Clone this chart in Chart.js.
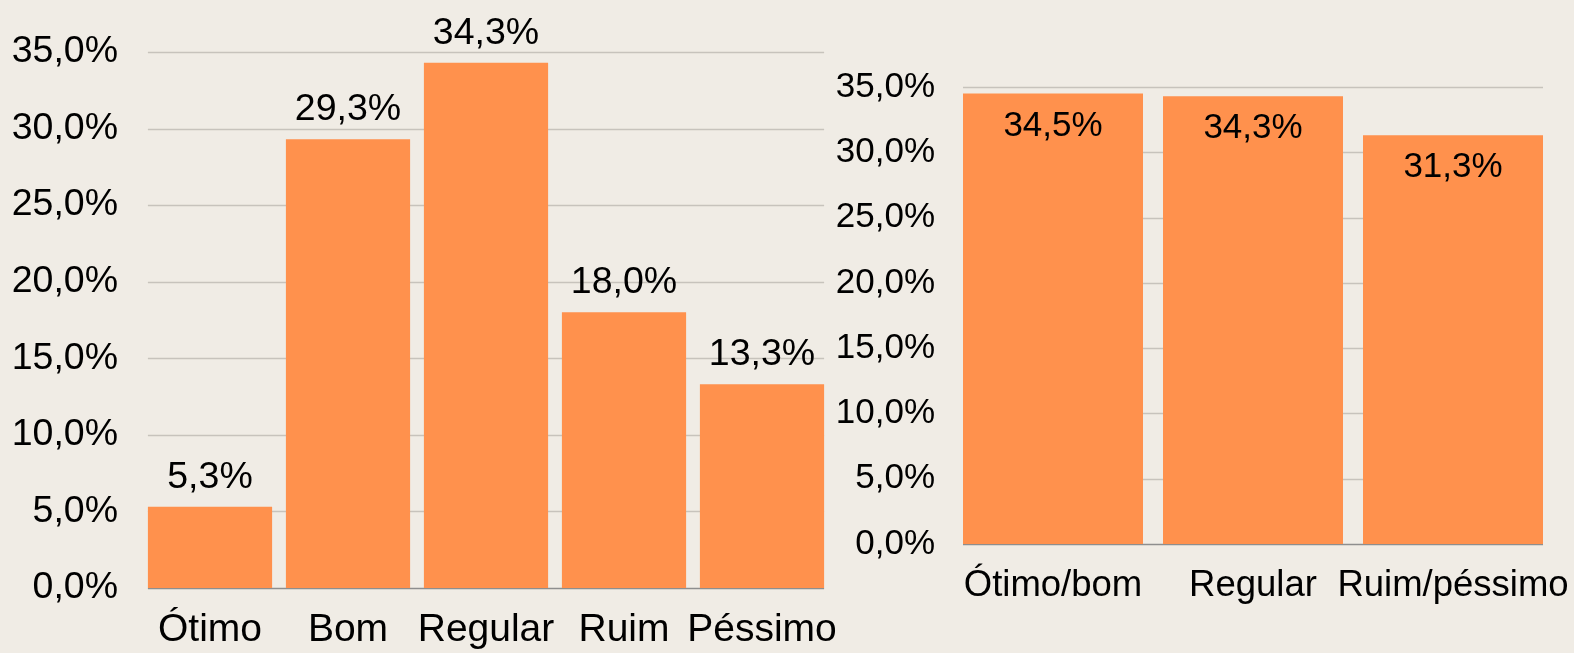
<!DOCTYPE html>
<html>
<head>
<meta charset="utf-8">
<script src="https://cdn.jsdelivr.net/npm/chart.js@4.4.1/dist/chart.umd.min.js"></script>
<style>
  html, body { margin: 0; padding: 0; background: #f0ece5; overflow: hidden; }
  canvas { position: absolute; top: 0; }
  #esquerda { left: 0; }
  #direita { left: 830px; }
</style>
</head>
<body>
<canvas id="esquerda" width="850" height="653"></canvas>
<canvas id="direita" width="744" height="653"></canvas>
<script>
// dados
const categoriasDetalhe = ['Ótimo', 'Bom', 'Regular', 'Ruim', 'Péssimo'];
const valoresDetalhe = [5.3, 29.3, 34.3, 18.0, 13.3];
const categoriasAgrupadas = ['Ótimo/bom', 'Regular', 'Ruim/péssimo'];
const valoresAgrupados = [34.5, 34.3, 31.3];
const eixoY = { min: 0, max: 35, passo: 5 };

const fmt = v => v.toFixed(1).replace('.', ',') + '%';

Chart.defaults.font.family = '"Liberation Sans", Arial, sans-serif';
Chart.defaults.color = '#000';

// linhas de grade só entre a primeira e a última barra
const gridPlugin = {
  id: 'gradeBarras',
  beforeDatasetsDraw(chart) {
    const bars = chart.getDatasetMeta(0).data;
    const first = bars[0], last = bars[bars.length - 1];
    const x0 = first.x - first.width / 2;
    const x1 = last.x + last.width / 2;
    const y = chart.scales.y;
    const ctx = chart.ctx;
    ctx.save();
    y.ticks.forEach(t => {
      const py = Math.round(y.getPixelForValue(t.value)) + 0.5;
      ctx.strokeStyle = t.value === 0 ? '#8e8e8e' : '#c7c3bc';
      ctx.lineWidth = 1.5;
      ctx.beginPath();
      ctx.moveTo(x0, py);
      ctx.lineTo(x1, py);
      ctx.stroke();
    });
    ctx.restore();
  }
};

// rótulos de valor em cada barra
const labelPlugin = {
  id: 'rotulos',
  afterDatasetsDraw(chart, args, opts) {
    const meta = chart.getDatasetMeta(0);
    const ctx = chart.ctx;
    ctx.save();
    ctx.font = opts.size + 'px "Liberation Sans", Arial, sans-serif';
    ctx.fillStyle = '#000';
    ctx.textAlign = 'center';
    ctx.textBaseline = 'alphabetic';
    meta.data.forEach((bar, i) => {
      ctx.fillText(fmt(chart.data.datasets[0].data[i]), bar.x, bar.y + opts.offset);
    });
    ctx.restore();
  }
};

function makeChart(id, labels, values, c) {
  return new Chart(document.getElementById(id), {
    type: 'bar',
    data: {
      labels: labels,
      datasets: [{
        data: values,
        backgroundColor: '#ff914d',
        categoryPercentage: 0.9,
        barPercentage: 1,
      }],
    },
    options: {
      responsive: false,
      animation: false,
      layout: { padding: { top: c.top, right: c.right, left: 0, bottom: 0 } },
      plugins: {
        legend: { display: false },
        tooltip: { enabled: false },
        rotulos: { size: c.labelSize, offset: c.offset },
      },
      scales: {
        x: {
          grid: { display: false, drawTicks: false },
          border: { display: false },
          ticks: { font: { size: c.xFont }, padding: c.xPad, maxRotation: 0, autoSkip: false },
          afterFit: s => { s.height = c.xHeight; s.paddingLeft = 0; s.paddingRight = 0; },
        },
        y: {
          min: eixoY.min,
          max: eixoY.max,
          grid: { display: false, drawTicks: false },
          border: { display: false },
          ticks: { stepSize: eixoY.passo, font: { size: c.yFont }, padding: c.yPad, callback: v => fmt(v) },
          afterFit: s => { s.width = c.yWidth; s.paddingTop = 0; s.paddingBottom = 0; },
        },
      },
    },
    plugins: [gridPlugin, labelPlugin],
  });
}

makeChart('esquerda', categoriasDetalhe, valoresDetalhe, {
  top: 52, right: 19, yWidth: 141, xHeight: 65,
  yFont: 37.5, xFont: 39, xPad: 19, labelSize: 37.5, offset: -19, yPad: 23,
});

makeChart('direita', categoriasAgrupadas, valoresAgrupados, {
  top: 87, right: 21, yWidth: 123, xHeight: 109,
  yFont: 35, xFont: 36.5, xPad: 20, labelSize: 35, offset: 42, yPad: 18,
});
</script>
</body>
</html>
